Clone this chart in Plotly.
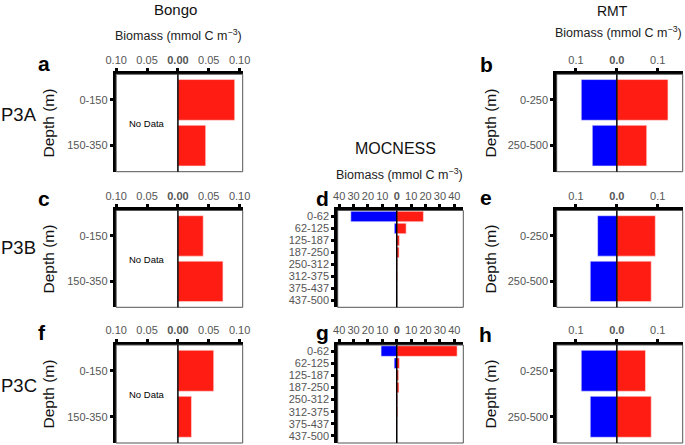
import plotly.graph_objects as go

# ---------------- data ----------------
bongo_depth = ["0-150", "150-350"]
bongo_P3A = [0.092, 0.045]
bongo_P3B = [0.041, 0.073]
bongo_P3C = [0.058, 0.022]

moc_depth = ["0-62", "62-125", "125-187", "187-250", "250-312", "312-375", "375-437", "437-500"]
moc_P3B_left = [31.9, 1.7, 0.3, 0.2, 0.2, 0.4, 0.1, 0.3]
moc_P3B_right = [18.5, 6.5, 1.8, 1.6, 0.4, 0.4, 0.2, 0.2]
moc_P3C_left = [10.9, 1.8, 0.2, 0.4, 0.3, 0.2, 0.1, 0.1]
moc_P3C_right = [41.9, 1.8, 1.3, 1.5, 0.5, 0.6, 0.2, 0.1]

rmt_depth = ["0-250", "250-500"]
rmt_P3A_left = [0.087, 0.060]
rmt_P3A_right = [0.125, 0.073]
rmt_P3B_left = [0.047, 0.065]
rmt_P3B_right = [0.094, 0.084]
rmt_P3C_left = [0.087, 0.065]
rmt_P3C_right = [0.070, 0.084]

bongo_ticks = [-0.1, -0.05, 0, 0.05, 0.1]
bongo_ticktext = ["0.10", "0.05", "<b>0.00</b>", "0.05", "0.10"]
moc_ticks = [-40, -30, -20, -10, 0, 10, 20, 30, 40]
moc_ticktext = ["40", "30", "20", "10", "<b>0</b>", "10", "20", "30", "40"]
rmt_ticks = [-0.1, 0, 0.1]
rmt_ticktext = ["0.1", "<b>0.0</b>", "0.1"]

RED = "#ff1c12"
BLUE = "#0000ff"
W, H = 685, 445
FONT = "Liberation Sans, Arial, sans-serif"

def px(x):
    return x / W

def py(y):
    return 1 - y / H

fig = go.Figure()

col_bongo = (116.2, 242.7)
col_moc = (337.7, 463.3)
col_rmt = (556.7, 682.7)
rows = [(74.3, 171.7), (210.5, 307.3), (345.0, 443.0)]

panels = [
    ("a", col_bongo, 0, bongo_depth, None, bongo_P3A, [-0.1, 0.105], bongo_ticks, bongo_ticktext),
    ("c", col_bongo, 1, bongo_depth, None, bongo_P3B, [-0.1, 0.105], bongo_ticks, bongo_ticktext),
    ("f", col_bongo, 2, bongo_depth, None, bongo_P3C, [-0.1, 0.105], bongo_ticks, bongo_ticktext),
    ("d", col_moc, 1, moc_depth, moc_P3B_left, moc_P3B_right, [-41, 46.2], moc_ticks, moc_ticktext),
    ("g", col_moc, 2, moc_depth, moc_P3C_left, moc_P3C_right, [-41, 46.2], moc_ticks, moc_ticktext),
    ("b", col_rmt, 0, rmt_depth, rmt_P3A_left, rmt_P3A_right, [-0.147, 0.161], rmt_ticks, rmt_ticktext),
    ("e", col_rmt, 1, rmt_depth, rmt_P3B_left, rmt_P3B_right, [-0.147, 0.161], rmt_ticks, rmt_ticktext),
    ("h", col_rmt, 2, rmt_depth, rmt_P3C_left, rmt_P3C_right, [-0.147, 0.161], rmt_ticks, rmt_ticktext),
]

shapes = []
annotations = []
layout_axes = {}

for i, (name, col, row, cats, left, right, xr, tv, tt) in enumerate(panels, start=1):
    xs = "" if i == 1 else str(i)
    xref, yref = "x" + xs, "y" + xs
    n = len(cats)
    if n == 2:
        yr = [1.57, -0.56]
        bw = 0.89
    else:
        yr = [7.58, -0.5]
        bw = 0.87
    if left is not None:
        fig.add_trace(go.Bar(y=cats, x=[-v for v in left], orientation="h",
                             marker=dict(color=BLUE, line=dict(color="#e8e8ff", width=0.6)),
                             width=bw, xaxis=xref, yaxis=yref, showlegend=False,
                             hoverinfo="skip"))
    fig.add_trace(go.Bar(y=cats, x=right, orientation="h",
                         marker=dict(color=RED, line=dict(color="#ffe0e0", width=0.6)),
                         width=bw, xaxis=xref, yaxis=yref, showlegend=False,
                         hoverinfo="skip"))
    layout_axes["xaxis" + xs] = dict(
        domain=[px(col[0]), px(col[1])], anchor=yref, side="top", range=xr,
        tickmode="array", tickvals=tv, ticktext=tt,
        showline=True, linewidth=3.4, linecolor="black",
        ticks="outside", ticklen=3, tickwidth=3, tickcolor="black",
        showgrid=False, zeroline=False, fixedrange=True, automargin=False,
        tickfont=dict(size=11, color="#555555", family=FONT),
    )
    layout_axes["yaxis" + xs] = dict(
        domain=[py(rows[row][1]), py(rows[row][0])], anchor=xref, type="category",
        categoryorder="array", categoryarray=cats, range=yr,
        tickmode="array", tickvals=cats, ticktext=cats,
        showline=True, linewidth=3.4, linecolor="black",
        ticks="outside", ticklen=3, tickwidth=3, tickcolor="black",
        showgrid=False, zeroline=False, fixedrange=True, automargin=False,
        tickfont=dict(size=11, color="#555555", family=FONT),
    )
    shapes.append(dict(type="rect", xref=xref + " domain", yref=yref + " domain",
                       x0=0, x1=1, y0=0, y1=1, line=dict(color="#555555", width=1),
                       layer="above"))
    shapes.append(dict(type="line", xref=xref, yref=yref + " domain", x0=0, x1=0,
                       y0=0, y1=1, line=dict(color="black", width=1.5), layer="above"))

fig.update_layout(**layout_axes)

def ann(text, x, y, size, color="#111111", bold=False, xanchor="center", yanchor="middle", angle=0):
    if bold:
        text = "<b>" + text + "</b>"
    annotations.append(dict(text=text, x=px(x), y=py(y), xref="paper", yref="paper",
                            showarrow=False, xanchor=xanchor, yanchor=yanchor,
                            textangle=angle, borderpad=0,
                            font=dict(size=size, color=color, family=FONT)))

ann("Bongo", 175, 0, 15, yanchor="top")
ann("MOCNESS", 395, 148.5, 16)
ann("RMT", 612.5, 1.5, 14, yanchor="top")
biom = "Biomass (mmol C m<sup>\u22123</sup>)"
ann(biom, 178, 35, 12.5, color="#222222")
ann(biom, 399, 173.5, 12.5, color="#222222")
ann(biom, 618.5, 32.5, 12.5, color="#222222")

ann("P3A", 0, 115, 18.5, xanchor="left")
ann("P3B", 0, 247, 18.5, xanchor="left")
ann("P3C", 0, 385, 18.5, xanchor="left")

for yc in [123, 259, 394]:
    ann("Depth (m)", 47.5, yc, 15.5, angle=-90)
    ann("Depth (m)", 489.5, yc, 15.5, angle=-90)

for yc in [123.3, 259.3, 394]:
    ann("No Data", 146.7, yc, 9.5, color="#000000")

ann("a", 44, 63.5, 21, color="#000000", bold=True)
ann("c", 44, 198.5, 21, color="#000000", bold=True)
ann("f", 42, 332.7, 21, color="#000000", bold=True)
ann("d", 322, 198.5, 21, color="#000000", bold=True)
ann("g", 322, 332.7, 21, color="#000000", bold=True)
ann("b", 486.7, 64.4, 21, color="#000000", bold=True)
ann("e", 486, 197.5, 21, color="#000000", bold=True)
ann("h", 486, 334, 21, color="#000000", bold=True)

fig.update_layout(
    width=W, height=H, margin=dict(l=0, r=0, t=0, b=0, autoexpand=False),
    paper_bgcolor="white", plot_bgcolor="white",
    barmode="overlay", bargap=0, showlegend=False,
    shapes=shapes, annotations=annotations,
    font=dict(family=FONT),
)

fig.write_html("out.html", config={"displayModeBar": False, "staticPlot": True},
               post_script="document.body.style.margin='0';document.body.style.overflow='hidden';")
